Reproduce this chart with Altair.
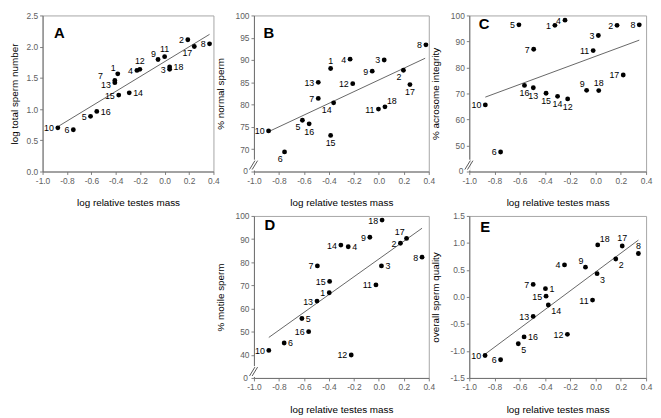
import altair as alt
import pandas as pd

FONT = "Liberation Sans, Arial, sans-serif"

species = [str(i) for i in range(1, 19)]

# ---- Panel A : log total sperm number
a_x = [-0.384, 0.19, 0.041, -0.227, -0.607, -0.748, -0.408, 0.368, -0.054,
       -0.875, 0.0, -0.203, -0.408, -0.29, -0.376, -0.556, 0.243, 0.041]
a_y = [1.564, 2.11, 1.637, 1.62, 0.884, 0.669, 1.459, 2.045, 1.794,
       0.70, 1.84, 1.637, 1.423, 1.26, 1.224, 0.962, 2.003, 1.674]
a_pos = ["TL", "L", "L", "L", "L", "L", "LFU", "L", "TL",
         "L", "T", "T", "LD", "R", "L", "R", "BL", "R"]
a_line_x = [-0.872, 0.368]
a_line_y = [0.722, 2.197]

# ---- Panel B : % normal sperm
b_x = [-0.386, 0.197, 0.043, -0.23, -0.612, -0.755, -0.485, 0.377, -0.053,
       -0.883, -0.003, -0.209, -0.485, -0.362, -0.386, -0.558, 0.249, 0.049]
b_y = [88.1, 87.7, 90.0, 90.2, 76.5, 69.4, 81.4, 93.4, 87.5,
       74.1, 79.0, 84.7, 85.0, 80.4, 73.1, 75.7, 84.5, 79.5]
b_pos = ["T", "BL", "L", "L", "BL", "BL", "L", "L", "L",
         "L", "L", "L", "L", "BL", "B", "B", "B", "TR"]
b_line_x = [-0.878, 0.371]
b_line_y = [74.0, 90.4]

# ---- Panel C : % acrosome integrity
c_x = [-0.322, 0.17, 0.022, -0.242, -0.607, -0.752, -0.49, 0.346, -0.071,
       -0.873, -0.019, -0.221, -0.493, -0.301, -0.392, -0.563, 0.219, 0.025]
c_y = [96.2, 96.2, 92.3, 98.2, 96.4, 47.5, 87.0, 96.4, 71.2,
       65.6, 86.5, 67.9, 72.2, 68.9, 70.1, 73.1, 77.1, 71.1]
c_pos = ["L", "L", "L", "L", "L", "L", "L", "L", "TL",
         "L", "L", "B", "B", "B", "B", "B", "L", "T"]
c_line_x = [-0.873, 0.346]
c_line_y = [68.6, 90.5]

# ---- Panel D : % motile sperm
d_x = [-0.397, 0.173, 0.021, -0.245, -0.616, -0.758, -0.492, 0.346, -0.072,
       -0.881, -0.023, -0.221, -0.495, -0.304, -0.394, -0.562, 0.222, 0.026]
d_y = [66.8, 88.2, 78.4, 86.7, 55.7, 45.1, 78.4, 82.2, 90.8,
       41.9, 70.2, 39.9, 63.2, 87.4, 71.7, 50.0, 90.3, 98.2]
d_pos = ["L", "L", "R", "R", "R", "R", "L", "L", "L",
         "L", "L", "L", "L", "L", "L", "L", "TL", "L"]
d_line_x = [-0.881, 0.346]
d_line_y = [47.5, 94.7]

# ---- Panel E : overall sperm quality
e_x = [-0.397, 0.16, 0.012, -0.246, -0.612, -0.752, -0.494, 0.339, -0.08,
       -0.875, -0.024, -0.223, -0.494, -0.374, -0.392, -0.566, 0.211, 0.017]
e_y = [0.153, 0.703, 0.431, 0.594, -0.867, -1.163, 0.232, 0.805, 0.552,
       -1.085, -0.058, -0.692, -0.36, -0.149, 0.014, -0.74, 0.944, 0.963]
e_pos = ["R", "BR", "BR", "L", "BR", "L", "L", "T", "TL",
         "L", "L", "L", "L", "BR", "L", "R", "T", "TR"]
e_line_x = [-0.875, 0.339]
e_line_y = [-1.06, 1.053]

x_ticks = [-1.0, -0.8, -0.6, -0.4, -0.2, 0.0, 0.2, 0.4]

OFFS = {
    "L": dict(align="right", baseline="middle", dx=-4, dy=0.5),
    "LD": dict(align="right", baseline="middle", dx=-4, dy=2.5),
    "LFU": dict(align="right", baseline="middle", dx=-12, dy=-4),
    "R": dict(align="left", baseline="middle", dx=4, dy=0.5),
    "T": dict(align="center", baseline="alphabetic", dx=0, dy=-5),
    "B": dict(align="center", baseline="top", dx=0, dy=4),
    "TL": dict(align="right", baseline="alphabetic", dx=-2, dy=-3),
    "TR": dict(align="left", baseline="alphabetic", dx=2, dy=-3),
    "BL": dict(align="right", baseline="top", dx=-2, dy=3),
    "BR": dict(align="left", baseline="top", dx=3, dy=2),
}

XLABEL = "replace(format(datum.value, '.1f'), '\u2212', '-')"
LABEL_COLOR = "#606060"


def panel(letter, xs, ys, pos, lx, ly, ytitle, ydom, yticks, ylabexpr,
          width, height, letter_xy, broken, ytp):
    df = pd.DataFrame({"x": xs, "y": ys, "id": species, "pos": pos})
    xenc = alt.X("x:Q",
                 scale=alt.Scale(domain=[-1.0, 0.4], nice=False, zero=False),
                 axis=alt.Axis(values=x_ticks, labelExpr=XLABEL,
                               title="log relative testes mass",
                               titlePadding=13))
    yenc = alt.Y("y:Q",
                 scale=alt.Scale(domain=ydom, nice=False, zero=False),
                 axis=alt.Axis(values=yticks, labelExpr=ylabexpr,
                               title=ytitle, titlePadding=ytp))
    line = alt.Chart(pd.DataFrame({"x": lx, "y": ly})).mark_line(
        color="#555555", strokeWidth=0.9).encode(x=xenc, y=yenc)
    pts = alt.Chart(df).mark_circle(size=24, color="black", opacity=1).encode(
        x=xenc, y=yenc)
    layers = [line, pts]
    for code, o in OFFS.items():
        layers.append(
            alt.Chart(df).transform_filter(alt.datum.pos == code)
            .mark_text(font=FONT, fontSize=9, color="black", **o)
            .encode(x=xenc, y=yenc, text="id:N"))
    one = pd.DataFrame({"k": [0]})
    layers.append(
        alt.Chart(one).mark_text(font=FONT, fontSize=15, fontWeight="bold",
                                 align="center", baseline="middle",
                                 color="black", text=letter)
        .encode(x=alt.value(letter_xy[0]), y=alt.value(letter_xy[1])))
    if broken:
        # axis break: cut the axis line, draw "//" and the "0" label
        layers.append(alt.Chart(one).mark_rule(color="white", strokeWidth=3)
                      .encode(x=alt.value(0), y=alt.value(height - 12),
                              y2=alt.value(height - 1)))
        layers.append(alt.Chart(one).mark_rule(color="#444444", strokeWidth=0.9)
                      .encode(x=alt.value(-4.5), y=alt.value(height - 2),
                              x2=alt.value(1.0), y2=alt.value(height - 11)))
        layers.append(alt.Chart(one).mark_rule(color="#444444", strokeWidth=0.9)
                      .encode(x=alt.value(-1.8), y=alt.value(height - 2),
                              x2=alt.value(3.7), y2=alt.value(height - 11)))
        layers.append(alt.Chart(one).mark_text(
            font=FONT, fontSize=8.5, color=LABEL_COLOR, align="right",
            baseline="middle", text="0")
            .encode(x=alt.value(-6), y=alt.value(height)))
    return alt.layer(*layers).properties(width=width, height=height)


NUM1 = "format(datum.value, '.1f')"

A = panel("A", a_x, a_y, a_pos, a_line_x, a_line_y, "log total sperm number",
          [0, 2.5], [0, 0.5, 1.0, 1.5, 2.0, 2.5], NUM1, 173, 158, (17, 18),
          False, 7)
B = panel("B", b_x, b_y, b_pos, b_line_x, b_line_y, "% normal sperm",
          [65, 100], [65, 70, 75, 80, 85, 90, 95, 100],
          "datum.value < 66 ? '' : format(datum.value, 'd')",
          177, 158, (15, 18), True, 10)
C = panel("C", c_x, c_y, c_pos, c_line_x, c_line_y, "% acrosome integrity",
          [40, 100], [40, 50, 60, 70, 80, 90, 100],
          "datum.value < 41 ? '' : format(datum.value, 'd')",
          179, 158, (15, 9), True, 10)
D = panel("D", d_x, d_y, d_pos, d_line_x, d_line_y, "% motile sperm",
          [30, 100], [30, 40, 50, 60, 70, 80, 90, 100],
          "datum.value < 31 ? '' : format(datum.value, 'd')",
          177, 164, (16, 9), True, 10)
E = panel("E", e_x, e_y, e_pos, e_line_x, e_line_y, "overall sperm quality",
          [-1.5, 1.5], [-1.5, -1.0, -0.5, 0.0, 0.5, 1.0, 1.5],
          "replace(format(datum.value, '.1f'), '\u2212', '-')",
          179, 164, (16, 11), False, 10)

spacer = alt.Chart(pd.DataFrame({"k": [0]})).mark_text(text="").encode(
    x=alt.value(0), y=alt.value(0)).properties(
    width=173, height=164, view=alt.ViewBackground(stroke="transparent"))

chart = alt.concat(
    A, B, C, spacer, D, E, columns=3,
    spacing={"row": 45, "column": 41}, bounds="flush", align="each"
).properties(
    padding={"left": 0, "top": 0, "right": 0, "bottom": 0}
).configure_view(
    stroke="#a6a6a6", strokeWidth=1
).configure_axis(
    labelFont=FONT, labelFontSize=8.5, labelColor=LABEL_COLOR,
    titleFont=FONT, titleFontSize=10, titleFontWeight="normal",
    titleColor="black", tickSize=3, tickColor="#808080",
    domainColor="#707070", grid=False, labelPadding=2,
    labelFlush=False, labelOverlap=False
)

chart.save("out.html", embed_options={"renderer": "svg", "actions": False})
